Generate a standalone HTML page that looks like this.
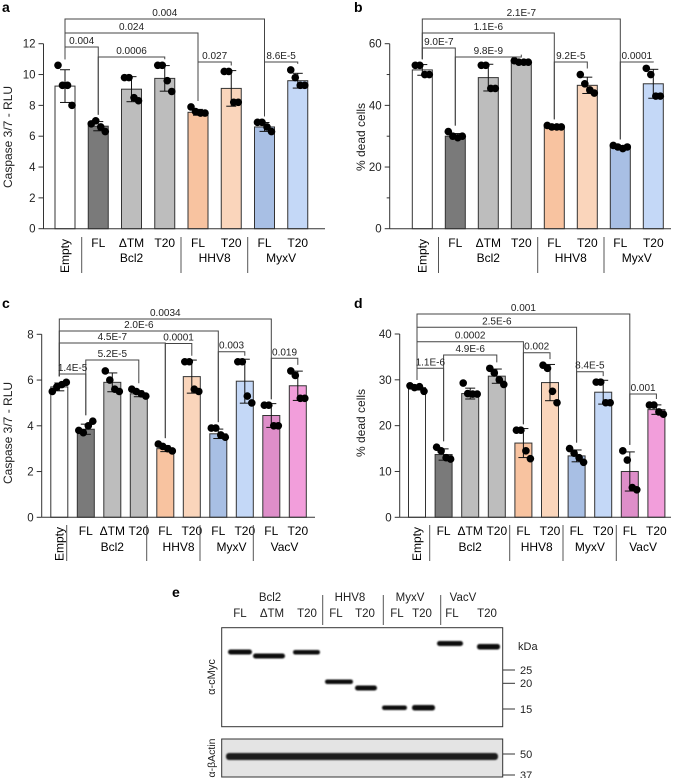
<!DOCTYPE html>
<html><head><meta charset="utf-8"><style>
body{margin:0;background:#fff;}
svg{display:block;font-family:"Liberation Sans",Arial,sans-serif;}
</style></head><body>
<svg id="fig" width="676" height="778" viewBox="0 0 676 778" xmlns="http://www.w3.org/2000/svg">
<defs><filter id="blur" x="-20%" y="-100%" width="140%" height="300%"><feGaussianBlur stdDeviation="0.9"/></filter></defs>
<g id="blot">
<text x="172" y="597" font-size="14" font-weight="bold">e</text>
<g font-size="11.5" text-anchor="middle" fill="#222">
<text x="270" y="601">Bcl2</text>
<text x="350" y="601">HHV8</text>
<text x="410" y="601">MyxV</text>
<text x="463" y="601">VacV</text>
<text x="240" y="617">FL</text>
<text x="272" y="617">ΔTM</text>
<text x="307" y="617">T20</text>
<text x="336" y="617">FL</text>
<text x="365" y="617">T20</text>
<text x="397" y="617">FL</text>
<text x="422" y="617">T20</text>
<text x="452" y="617">FL</text>
<text x="487" y="617">T20</text>
</g>
<g stroke="#555" stroke-width="1">
<line x1="322.7" y1="595" x2="322.7" y2="625"/><line x1="383.3" y1="595" x2="383.3" y2="625"/><line x1="440.7" y1="595" x2="440.7" y2="625"/>
</g>
<rect x="221.7" y="627.7" width="281" height="99" fill="#fff" stroke="#333" stroke-width="1"/>
<g fill="#111" filter="url(#blur)">
<rect x="228" y="649.5" width="24" height="5" rx="2.5"/>
<rect x="253" y="653.5" width="32" height="5" rx="2.5"/>
<rect x="293" y="650" width="27" height="4.5" rx="2.2"/>
<rect x="325" y="679.5" width="28" height="4.5" rx="2.2"/>
<rect x="355" y="685.5" width="22" height="5" rx="2.5"/>
<rect x="382" y="705.5" width="25" height="4.5" rx="2.2"/>
<rect x="412" y="705" width="23" height="5.5" rx="2.5"/>
<rect x="437" y="641" width="26" height="5" rx="2.5"/>
<rect x="477" y="644" width="23" height="5.5" rx="2.5"/>
</g>
<rect x="221.7" y="739" width="281" height="38" fill="#e4e4e4" stroke="#333" stroke-width="1"/>
<rect x="226" y="753" width="272" height="7" rx="3" fill="#1a1a1a" filter="url(#blur)"/>
<g stroke="#333" stroke-width="1">
<line x1="503" y1="670" x2="515" y2="670"/><line x1="503" y1="683.3" x2="515" y2="683.3"/><line x1="503" y1="709" x2="515" y2="709"/>
<line x1="503" y1="754" x2="515" y2="754"/><line x1="503" y1="775" x2="515" y2="775"/>
</g>
<g font-size="11" fill="#222">
<text x="518" y="650">kDa</text>
<text x="520" y="674">25</text>
<text x="520" y="687">20</text>
<text x="520" y="713">15</text>
<text x="520" y="758">50</text>
<text x="520" y="779">37</text>
</g>
<text transform="translate(215,677) rotate(-90)" font-size="11" text-anchor="middle" fill="#222">α-cMyc</text>
<text transform="translate(215,758) rotate(-90)" font-size="10.5" text-anchor="middle" fill="#222">α-βActin</text>
</g>
</svg>
<script>
// ---------- DATA ----------
const catsA = ["Empty","FL","ΔTM","T20","FL","T20","FL","T20"];
const groupsA = ["Bcl2","HHV8","MyxV"];
const ptsA = [[10.6,9.3,9.3,8.0],[6.8,7.0,6.6,6.3],[9.8,9.8,8.5,8.3],[10.6,10.6,9.6,8.9],[7.9,7.6,7.5,7.5],[10.2,10.2,8.2,8.2],[6.9,6.9,6.6,6.3],[10.3,9.8,9.3,9.3]];
const meanA = [9.25,6.65,9.05,9.75,7.55,9.1,6.6,9.6];
const ticksA = [0,2,4,6,8,10,12];
const pLabelsA = ["0.004","0.024","0.004","0.0006","0.027","8.6E-5"];

const catsB = catsA;
const ptsB = [[53,53,50,50],[31.5,30,29.5,30],[53,53,45.5,45.5],[54.5,54,54,54],[33.5,33,33,33],[50,47,45,44],[27,26.5,26,26.5],[52,50,43,43]];
const meanB = [51.5,30,49,54,33,46.5,26.5,47];
const ticksB = [0,20,40,60];
const pLabelsB = ["2.1E-7","1.1E-6","9.0E-7","9.8E-9","9.2E-5","0.0001"];

const catsC = ["Empty","FL","ΔTM","T20","FL","T20","FL","T20","FL","T20"];
const groupsC = ["Bcl2","HHV8","MyxV","VacV"];
const ptsC = [[5.5,5.7,5.8,5.9],[3.8,3.7,4.0,4.2],[6.4,6.0,5.6,5.5],[5.6,5.5,5.4,5.3],[3.2,3.1,3.0,2.9],[6.8,6.8,5.6,5.5],[3.9,3.9,3.6,3.5],[6.8,6.8,5.3,5.0],[4.9,4.9,4.0,4.0],[6.4,6.2,5.2,5.2]];
const meanC = [5.7,3.85,5.9,5.4,3.0,6.15,3.65,5.95,4.45,5.75];
const ticksC = [0,2,4,6,8];
const pLabelsC = ["0.0034","2.0E-6","4.5E-7","5.2E-5","1.4E-5","0.0001","0.003","0.019"];

const catsD = catsC;
const ptsD = [[28.7,28.3,28.5,27.5],[15.3,14.5,13,12.7],[29.3,27,26.9,26.9],[32.5,31.5,30,29],[19,19,14.5,12.8],[33.2,32.5,27.5,25],[15,14,13,12],[29.5,29.5,25,25],[14.5,12.5,6.5,6],[24.5,24.5,23,22.5]];
const meanD = [28.3,13.7,27,30.8,16.2,29.4,13.4,27.3,10,23.5];
const ticksD = [0,10,20,30,40];
const pLabelsD = ["0.001","2.5E-6","0.0002","4.9E-6","1.1E-6","0.002","8.4E-5","0.001"];

// ---------- LAYOUT ----------
const colors8 = ["#ffffff","#7a7a7a","#bdbdbd","#bdbdbd","#f8c3a0","#fad5bb","#a8bfe4","#c4d8f7"];
const colors10 = colors8.concat(["#de8ec9","#f29edb"]);
const NS="http://www.w3.org/2000/svg";
const svg=document.getElementById('fig');
function mk(tag,attrs,parent){const e=document.createElementNS(NS,tag);for(const k in attrs)e.setAttribute(k,attrs[k]);parent.appendChild(e);return e;}

const panels=[
 {id:"a",cats:catsA,groups:groupsA,pts:ptsA,mean:meanA,ticks:ticksA,minor:false,max:12,x0:43.5,y0:228.7,yTop:43.7,x1:325,bx0:65,step:33.25,bw:20,colors:colors8,title:"Caspase 3/7 - RLU",tx:8,ty:137,
  sepX:[81.7,181,247.7],labY:247,grpY:262,letter:[2,12],
  br:[[0,6,19,pLabelsA[0]],[0,4,33,pLabelsA[1]],[0,1,47,pLabelsA[2]],[1,3,57,pLabelsA[3]],[4,5,62,pLabelsA[4]],[6,7,62,pLabelsA[5]]]},
 {id:"b",cats:catsB,groups:groupsA,pts:ptsB,mean:meanB,ticks:ticksB,minor:true,max:60,x0:389.7,y0:228.7,yTop:43.7,x1:671,bx0:422.3,step:33,bw:20,colors:colors8,title:"% dead cells",tx:361,ty:137,
  sepX:[438.5,537.7,604],labY:247,grpY:262,letter:[354,12],
  br:[[0,6,19,pLabelsB[0]],[0,4,33,pLabelsB[1]],[0,1,48,pLabelsB[2]],[1,3,57,pLabelsB[3]],[4,5,62,pLabelsB[4]],[6,7,62,pLabelsB[5]]]},
 {id:"c",cats:catsC,groups:groupsC,pts:ptsC,mean:meanC,ticks:ticksC,minor:false,max:8,x0:41.7,y0:517.3,yTop:334.3,x1:315,bx0:59.3,step:26.5,bw:17,colors:colors10,title:"Caspase 3/7 - RLU",tx:8,ty:433,
  sepX:[66.7,146.7,200,253.3],labY:535,grpY:551,letter:[2,308],
  br:[[0,8,319,pLabelsC[0]],[0,6,331,pLabelsC[1]],[0,4,343,pLabelsC[2]],[1,3,360,pLabelsC[3]],[0,1,374,pLabelsC[4]],[4,5,343.5,pLabelsC[5]],[6,7,351.7,pLabelsC[6]],[8,9,358.3,pLabelsC[7]]]},
 {id:"d",cats:catsD,groups:groupsC,pts:ptsD,mean:meanD,ticks:ticksD,minor:false,max:40,x0:399.7,y0:517.3,yTop:334,x1:671,bx0:417,step:26.6,bw:17,colors:colors10,title:"% dead cells",tx:361,ty:423,
  sepX:[429.7,509.7,563,616.3],labY:535,grpY:551,letter:[354,308],
  br:[[0,8,314,pLabelsD[0]],[0,6,327.3,pLabelsD[1]],[0,4,341.7,pLabelsD[2]],[1,3,355,pLabelsD[3]],[0,1,368.3,pLabelsD[4]],[4,5,352.7,pLabelsD[5]],[6,7,371.7,pLabelsD[6]],[8,9,394,pLabelsD[7]]]}
];
const jitter=[-7,-2.5,2.5,7];

panels.forEach(P=>{
 const g=mk('g',{},svg);
 
 
 const ys=v=>P.y0-(v/P.max)*(P.y0-P.yTop);
 const xs=i=>P.bx0+i*P.step;
 const L=mk('text',{x:P.letter[0],y:P.letter[1],'font-size':14,'font-weight':'bold'},g);L.textContent=P.id;
 
 
 P.cats.forEach((c,i)=>{
  const top=ys(P.mean[i]);
  const r=mk('rect',{x:xs(i)-P.bw/2,y:top,width:P.bw,height:P.y0-top,fill:P.colors[i],stroke:'#333','stroke-width':1},g);
  
  
  const p=P.pts[i];const m=p.reduce((a,b)=>a+b,0)/p.length;
  const sd=Math.sqrt(p.reduce((a,b)=>a+(b-m)*(b-m),0)/(p.length-1));
  const eg=mk('g',{stroke:'#111','stroke-width':1},g);
  
  
  mk('line',{x1:xs(i),x2:xs(i),y1:ys(P.mean[i]+sd),y2:ys(Math.max(0,P.mean[i]-sd))},eg);
  mk('line',{x1:xs(i)-5,x2:xs(i)+5,y1:ys(P.mean[i]+sd),y2:ys(P.mean[i]+sd)},eg);
  mk('line',{x1:xs(i)-5,x2:xs(i)+5,y1:ys(Math.max(0,P.mean[i]-sd)),y2:ys(Math.max(0,P.mean[i]-sd))},eg);
  p.forEach((v,k)=>{
   const d=mk('circle',{cx:xs(i)+jitter[k],cy:ys(v),r:3.8,fill:'#000'},g);
   
   
  });
  const t=(c==="Empty")?mk('text',{transform:`translate(${xs(i)+4},${P.labY-8}) rotate(-90)`,'font-size':12,'text-anchor':'end'},g):mk('text',{x:xs(i),y:P.labY,'font-size':12,'text-anchor':'middle'},g);
  t.textContent=c;
  
  
 });
 const ax=mk('g',{stroke:'#333','stroke-width':1},g);
 
 
 mk('line',{x1:P.x0,x2:P.x0,y1:P.yTop,y2:P.y0},ax);
 mk('line',{x1:P.x0,x2:P.x1,y1:P.y0,y2:P.y0},ax);
 P.ticks.forEach(v=>{
  mk('line',{x1:P.x0-5,x2:P.x0,y1:ys(v),y2:ys(v)},ax);
  const t=mk('text',{x:P.x0-8,y:ys(v)+4,'font-size':11.5,'text-anchor':'end',fill:'#222',stroke:'none'},g);t.textContent=v;
  
  
 });
 if(P.minor){for(let k=0;k<P.ticks.length-1;k++){const v=(P.ticks[k]+P.ticks[k+1])/2;mk('line',{x1:P.x0-3,x2:P.x0,y1:ys(v),y2:ys(v)},ax);}}
 const yt=mk('text',{transform:`translate(${P.tx+4},${P.ty}) rotate(-90)`,'font-size':12,'text-anchor':'middle',fill:'#222'},g);
 yt.textContent=P.title;
 
 
 P.sepX.forEach(x=>mk('line',{x1:x,x2:x,y1:P.labY-10,y2:P.labY+26,stroke:'#555','stroke-width':1},g));
 const gc=[[1,3],[4,5],[6,7],[8,9]];
 P.groups.forEach((n,k)=>{const c=(xs(gc[k][0])+xs(gc[k][1]))/2;
  const t=mk('text',{x:c,y:P.grpY,'font-size':12,'text-anchor':'middle'},g);t.textContent=n;
  
  });
 P.br.forEach(b=>{
  const [i,j,yb,lab]=b;
  const topOf=k=>ys(Math.max(...P.pts[k],P.mean[k]))-6;
  const bg=mk('g',{},g);
  
  
  mk('path',{d:`M${xs(i)},${topOf(i)}V${yb}H${xs(j)}V${topOf(j)}`,fill:'none',stroke:'#444','stroke-width':1},bg);
  const t=mk('text',{x:(xs(i)+xs(j))/2,y:yb-3,'font-size':10,'text-anchor':'middle',fill:'#222'},bg);t.textContent=lab;
 });
});
</script>
</body></html>
